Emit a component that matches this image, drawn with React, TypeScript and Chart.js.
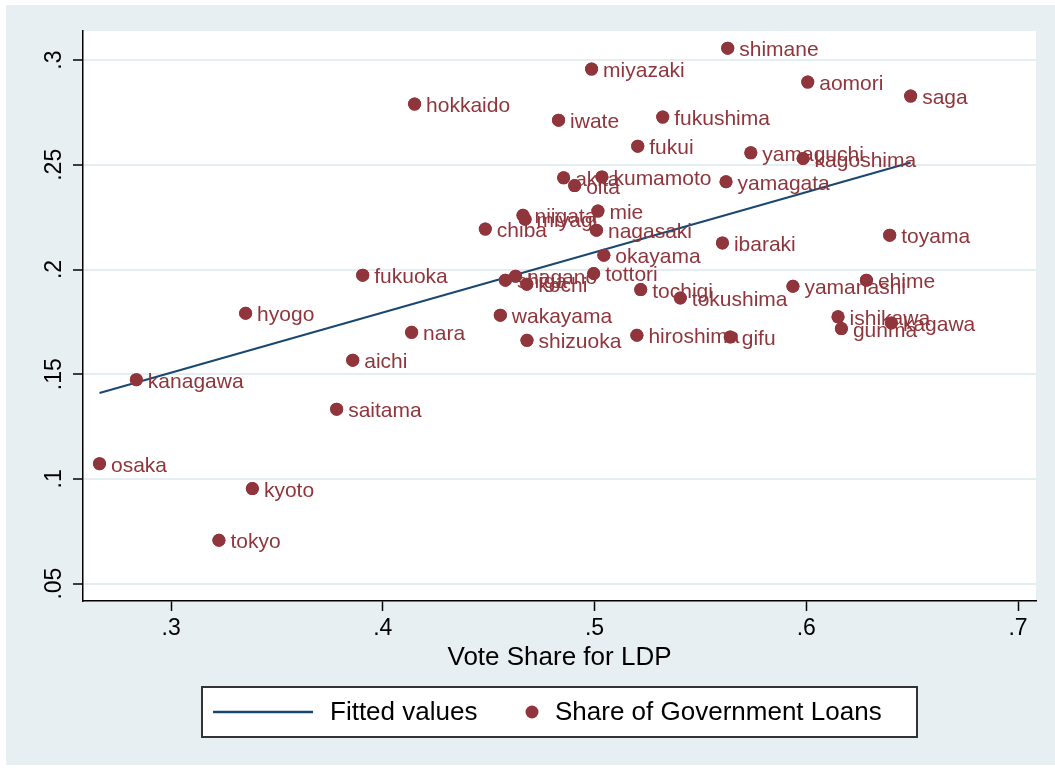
import { useEffect, useRef } from "react";
import { Chart, registerables } from "chart.js";

Chart.register(...registerables);

// Prefecture-level observations: LDP vote share vs. share of government loans
const prefectures = [
  "osaka", "kanagawa", "tokyo", "hyogo", "kyoto", "saitama", "aichi", "fukuoka",
  "nara", "hokkaido", "chiba", "wakayama", "shiga", "nagano", "niigata", "miyagi",
  "kochi", "shizuoka", "iwate", "akita", "oita", "miyazaki", "tottori", "nagasaki",
  "mie", "kumamoto", "okayama", "hiroshima", "fukui", "tochigi", "fukushima",
  "tokushima", "ibaraki", "yamagata", "shimane", "gifu", "yamaguchi", "yamanashi",
  "kagoshima", "aomori", "ishikawa", "gunma", "ehime", "toyama", "kagawa", "saga",
];
const voteShare = [
  0.2662, 0.2836, 0.3226, 0.3352, 0.3384, 0.3782, 0.3858, 0.3905,
  0.4136, 0.415, 0.4484, 0.4555, 0.4579, 0.4627, 0.4662, 0.4672,
  0.468, 0.4681, 0.483, 0.4854, 0.4906, 0.4986, 0.4996, 0.5009,
  0.5016, 0.5035, 0.5044, 0.52, 0.5204, 0.5218, 0.5322,
  0.5405, 0.5604, 0.5621, 0.5629, 0.5641, 0.5738, 0.5937,
  0.5985, 0.6007, 0.615, 0.6166, 0.6284, 0.6394, 0.6402, 0.6493,
];
const loanShare = [
  0.1073, 0.1474, 0.0707, 0.1791, 0.0954, 0.1333, 0.1567, 0.1973,
  0.17, 0.279, 0.2193, 0.1782, 0.1949, 0.1968, 0.2259, 0.224,
  0.193, 0.1662, 0.2713, 0.2438, 0.2401, 0.2957, 0.1981, 0.2188,
  0.2279, 0.2442, 0.2068, 0.1686, 0.2589, 0.1904, 0.2728,
  0.1864, 0.2127, 0.2419, 0.3057, 0.1678, 0.2557, 0.192,
  0.253, 0.2895, 0.1774, 0.1718, 0.1949, 0.2164, 0.1745, 0.2828,
];

// Linear fit, drawn between the extreme vote shares
const fittedX = [0.2662, 0.6493];
const fittedY = [0.141, 0.2511];

const xTicks = [0.3, 0.4, 0.5, 0.6, 0.7];
const yTicks = [0.05, 0.1, 0.15, 0.2, 0.25, 0.3];
const xRange = [0.2584, 0.7085];
const yRange = [0.0417, 0.3139];

const xTitle = "Vote Share for LDP";
const legendLabels = ["Fitted values", "Share of Government Loans"];

const MAROON = "#90353b";
const NAVY = "#1a476f";
const PAGE_BG = "#e8eff2";
const GRID = "#e4edf0";
const FONT = '"Liberation Sans", Arial, Helvetica, sans-serif';

const fmt = (v: number) => String(+Number(v).toFixed(2)).replace(/^0\./, ".");

const framePlugin = {
  id: "frame",
  beforeDraw(chart: any) {
    const { ctx, chartArea: a, width, height } = chart;
    ctx.save();
    ctx.fillStyle = "#ffffff";
    ctx.fillRect(0, 0, width, height);
    ctx.fillStyle = PAGE_BG;
    ctx.fillRect(6, 5, width - 6, height - 10);
    ctx.fillStyle = "#ffffff";
    ctx.fillRect(a.left, a.top, a.right - a.left, a.bottom - a.top);
    ctx.restore();
  },
};

// Markers with their labels, painted in order of vote share so later dots sit over earlier labels
const markerLabelPlugin = {
  id: "markerLabels",
  afterDatasetsDraw(chart: any) {
    const { ctx, chartArea } = chart;
    const meta = chart.getDatasetMeta(1);
    const order = prefectures.map((_, i) => i).sort((a, b) => voteShare[a] - voteShare[b]);
    ctx.save();
    ctx.font = `21px ${FONT}`;
    ctx.textAlign = "left";
    ctx.textBaseline = "alphabetic";
    for (const i of order) {
      const el = meta.data[i];
      el.draw(ctx, chartArea);
      ctx.fillStyle = MAROON;
      ctx.fillText(prefectures[i], el.x + 11.5, el.y + 8);
    }
    ctx.restore();
  },
};

const decorPlugin = {
  id: "decor",
  afterDraw(chart: any) {
    const { ctx, chartArea: a } = chart;
    const ys = chart.scales.y;
    ctx.save();

    // rotated y tick labels
    ctx.fillStyle = "#000";
    ctx.font = `23px ${FONT}`;
    ctx.textAlign = "center";
    ctx.textBaseline = "alphabetic";
    for (const t of ys.ticks) {
      const py = ys.getPixelForValue(t.value);
      ctx.save();
      ctx.translate(a.left - 22, py);
      ctx.rotate(-Math.PI / 2);
      ctx.fillText(fmt(t.value), 0, 0);
      ctx.restore();
    }

    const cx = (a.left + a.right) / 2;

    // x axis title
    ctx.font = `26px ${FONT}`;
    ctx.textBaseline = "middle";
    ctx.fillText(xTitle, cx, a.bottom + 57);

    // legend box
    const boxW = 715;
    const boxH = 50;
    const bx = cx - boxW / 2;
    const by = a.bottom + 86;
    const my = by + boxH / 2;
    ctx.fillStyle = "#ffffff";
    ctx.fillRect(bx, by, boxW, boxH);
    ctx.strokeStyle = "#333";
    ctx.lineWidth = 2;
    ctx.strokeRect(bx, by, boxW, boxH);

    ctx.strokeStyle = NAVY;
    ctx.lineWidth = 2.5;
    ctx.beginPath();
    ctx.moveTo(bx + 11, my);
    ctx.lineTo(bx + 111, my);
    ctx.stroke();

    ctx.fillStyle = "#000";
    ctx.textAlign = "left";
    ctx.fillText(legendLabels[0], bx + 128, my + 1);

    ctx.fillStyle = MAROON;
    ctx.beginPath();
    ctx.arc(bx + 330, my, 6.5, 0, Math.PI * 2);
    ctx.fill();

    ctx.fillStyle = "#000";
    ctx.fillText(legendLabels[1], bx + 353, my + 1);
    ctx.restore();
  },
};

export default function App() {
  const canvasRef = useRef<HTMLCanvasElement | null>(null);

  useEffect(() => {
    const canvas = canvasRef.current;
    if (!canvas) return;
    const chart = new Chart(canvas, {
      type: "scatter",
      data: {
        datasets: [
          {
            label: legendLabels[0],
            data: fittedX.map((x, i) => ({ x, y: fittedY[i] })),
            showLine: true,
            borderColor: NAVY,
            borderWidth: 2,
            pointRadius: 0,
            order: 2,
          },
          {
            label: legendLabels[1],
            data: voteShare.map((x, i) => ({ x, y: loanShare[i] })),
            backgroundColor: MAROON,
            borderWidth: 0,
            pointRadius: 6.5,
            order: 1,
          },
        ],
      },
      options: {
        responsive: false,
        animation: false,
        devicePixelRatio: 1,
        events: [],
        layout: { padding: { left: 0, top: 31, right: 19, bottom: 97 } },
        plugins: {
          legend: { display: false },
          tooltip: { enabled: false },
        },
        scales: {
          x: {
            type: "linear",
            min: xRange[0],
            max: xRange[1],
            afterBuildTicks: (s: any) => {
              s.ticks = xTicks.map((value) => ({ value }));
            },
            afterFit: (s: any) => {
              s.height = 72;
            },
            ticks: {
              color: "#000",
              font: { family: FONT, size: 23 },
              padding: 4,
              maxRotation: 0,
              minRotation: 0,
              callback: (v: any) => fmt(v),
            },
            grid: {
              drawOnChartArea: false,
              drawTicks: true,
              tickLength: 10,
              tickColor: "#000",
              tickWidth: 1.5,
            },
            border: { display: true, color: "#000", width: 1.5 },
          },
          y: {
            type: "linear",
            min: yRange[0],
            max: yRange[1],
            afterBuildTicks: (s: any) => {
              s.ticks = yTicks.map((value) => ({ value }));
            },
            afterFit: (s: any) => {
              s.width = 83;
            },
            ticks: { display: false },
            grid: {
              color: GRID,
              lineWidth: 2,
              drawTicks: true,
              tickLength: 10,
              tickColor: "#000",
              tickWidth: 1.5,
            },
            border: { display: true, color: "#000", width: 1.5 },
          },
        },
      },
      plugins: [framePlugin, markerLabelPlugin, decorPlugin],
    });
    return () => chart.destroy();
  }, []);

  return (
    <div style={{ position: "absolute", left: 0, top: 0, width: 1055, height: 770 }}>
      <canvas ref={canvasRef} width={1055} height={770} style={{ display: "block" }} />
    </div>
  );
}
